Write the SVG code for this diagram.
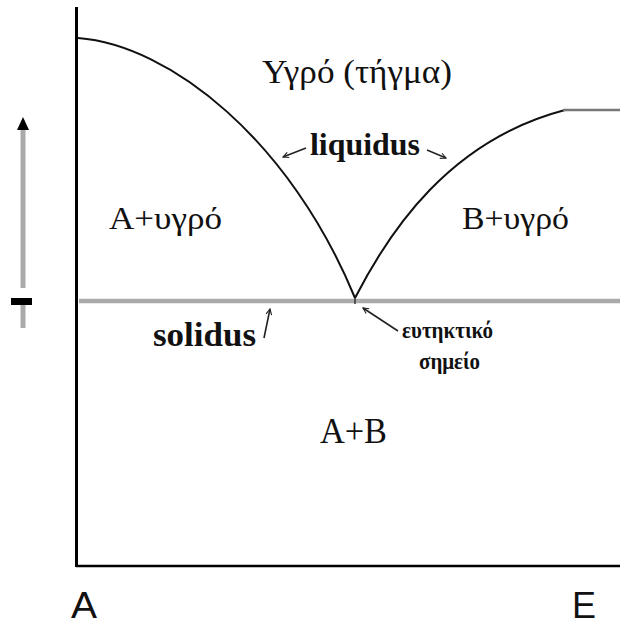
<svg xmlns="http://www.w3.org/2000/svg" width="620" height="625" viewBox="0 0 620 625">
<style>
.t{font-family:"Liberation Serif","DejaVu Serif",serif;fill:#111}
.b{font-weight:bold}
.s{font-family:"Liberation Sans","DejaVu Sans",sans-serif;fill:#111}
.ax{stroke:#000;fill:none}
.cv{stroke:#111;stroke-width:2;fill:none}
.ar{stroke:#222;stroke-width:1.6;fill:none;marker-end:url(#ah)}
</style>
<defs>
<marker id="ah" viewBox="0 0 10 10" refX="9" refY="5" markerWidth="7" markerHeight="7" orient="auto" markerUnits="userSpaceOnUse">
<path d="M1,1 L9,5 L1,9" fill="none" stroke="#222" stroke-width="1.6"/>
</marker>
</defs>
<rect width="620" height="625" fill="#fff"/>
<g id="axes">
<line class="ax" x1="76.5" y1="7" x2="76.5" y2="567" stroke-width="3"/>
<line class="ax" x1="76" y1="566" x2="620" y2="566" stroke-width="2.5" stroke="#222"/>
</g>
<g id="side-arrow">
<line x1="23" y1="126" x2="23" y2="288" stroke="#aaa" stroke-width="5"/>
<path d="M17,130 L23,117 L29,130 Z" fill="#000"/>
<line x1="23" y1="305" x2="23" y2="328" stroke="#aaa" stroke-width="5"/>
<rect x="11" y="298" width="21" height="7" fill="#000"/>
</g>
<g id="solidus-line">
<line x1="79" y1="301" x2="620" y2="301" stroke="#aaa" stroke-width="4.5"/>
</g>
<g id="liquidus-curves">
<path class="cv" d="M78,38 C170,45 290,140 355,298"/>
<path class="cv" d="M355,298 C390,230 450,140 565,110"/>
<line x1="563" y1="110" x2="620" y2="110" stroke="#777" stroke-width="2.5"/>
<line x1="355" y1="298" x2="355" y2="304" stroke="#333" stroke-width="1.5"/>
</g>
<g id="connectors">
<line class="ar" x1="306" y1="148" x2="283" y2="157"/>
<line class="ar" x1="427" y1="150" x2="446" y2="158"/>
<line class="ar" x1="264" y1="338" x2="270" y2="309"/>
<line class="ar" x1="398" y1="331" x2="363" y2="308"/>
</g>
<g id="liquid"><text class="t" x="262" y="83" font-size="33" textLength="190" lengthAdjust="spacingAndGlyphs">Υγρό (τήγμα)</text></g>
<g id="liquidus"><text class="t b" x="310" y="155" font-size="31" textLength="110" lengthAdjust="spacingAndGlyphs">liquidus</text></g>
<g id="a-liquid"><text class="t" x="109" y="229" font-size="32" textLength="113" lengthAdjust="spacingAndGlyphs">A+υγρό</text></g>
<g id="b-liquid"><text class="t" x="462" y="229" font-size="32" textLength="107" lengthAdjust="spacingAndGlyphs">B+υγρό</text></g>
<g id="solidus"><text class="t b" x="153" y="346" font-size="33" textLength="103" lengthAdjust="spacingAndGlyphs">solidus</text></g>
<g id="eutectic">
<text class="t b" x="402" y="338" font-size="24" textLength="91" lengthAdjust="spacingAndGlyphs">ευτηκτικό</text>
<text class="t b" x="419" y="369" font-size="24" textLength="61" lengthAdjust="spacingAndGlyphs">σημείο</text>
</g>
<g id="ab"><text class="t" x="320" y="443" font-size="35" textLength="67" lengthAdjust="spacingAndGlyphs">A+B</text></g>
<g id="label-a"><text class="s" x="71" y="618" font-size="36" textLength="26" lengthAdjust="spacingAndGlyphs">A</text></g>
<g id="label-e"><text class="s" x="572" y="618" font-size="36" textLength="24" lengthAdjust="spacingAndGlyphs">E</text></g>
</svg>
